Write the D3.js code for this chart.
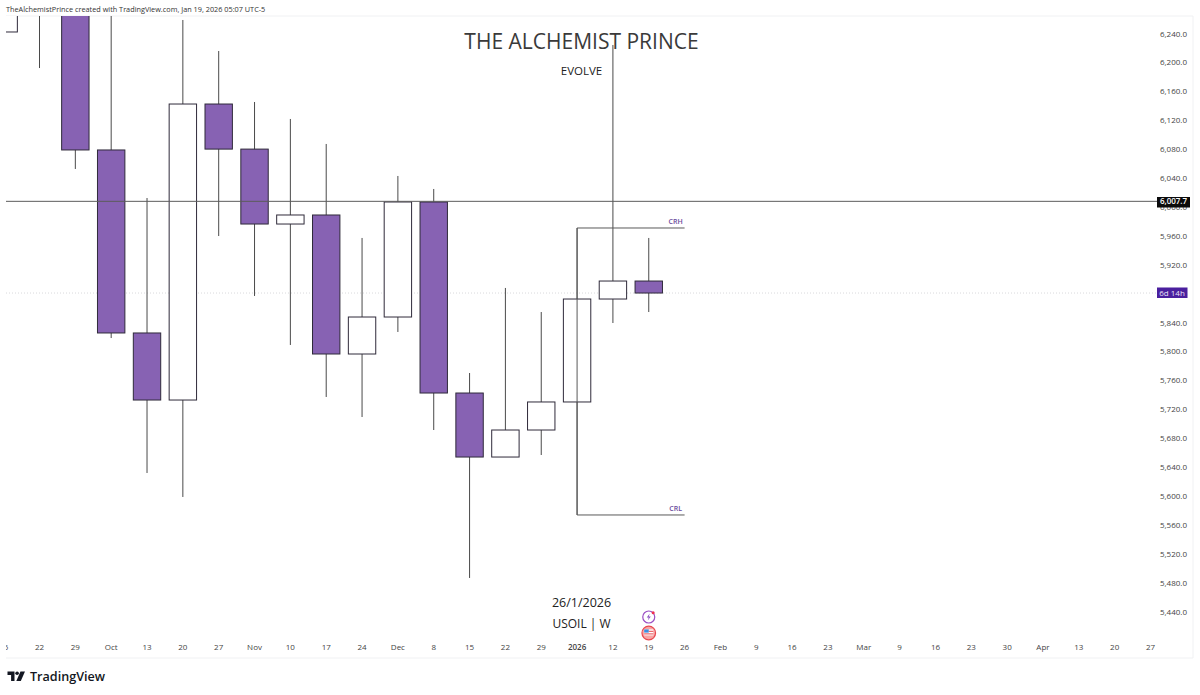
<!DOCTYPE html>
<html>
<head>
<meta charset="utf-8">
<script src="https://cdn.jsdelivr.net/npm/d3@7"></script>
<style>
  html, body { margin: 0; padding: 0; background: #fff; overflow: hidden; }
  text { font-family: "Open Sans", "Noto Sans", sans-serif; }
  .axis text { font-family: "Open Sans", sans-serif; font-size: 8px; fill: #444; }
  .axis line, .axis path { display: none; }
</style>
</head>
<body>
<svg id="chart" width="1200" height="695"></svg>
<script>
// weekly USOIL candles
const weekLabels = ["15", "22", "29", "Oct", "13", "20", "27", "Nov", "10", "17", "24", "Dec", "8", "15", "22", "29",
  "2026", "12", "19", "26", "Feb", "9", "16", "23", "Mar", "9", "16", "23", "30", "Apr", "13", "20", "27"];
const opens = [6300, 6330, 6320, 6078.8, 5825.5, 5732.7, 6142.4, 6080, 5976.3, 5988.8, 5796.4, 5847.6, 6006.8, 5742.4, 5653.8, 5691.2, 5730, 5872.5, 5897.4];
const highs = [6330, 6350, 6340, 6300, 6012.3, 6258.7, 6215.8, 6145.2, 6121.7, 6087.1, 5957, 6042.8, 6024.8, 5770.1, 5887.8, 5854.5, 5970.8, 6224.1, 5957];
const lows = [6242.1, 6192.2, 6052.5, 5818.5, 5631.7, 5598.5, 5959.7, 5876.7, 5808.9, 5736.9, 5709.2, 5826.9, 5691.2, 5486.4, 5653.8, 5656.6, 5573.6, 5839.3, 5854.5];
const closes = [6242.1, 6300, 6078.8, 5825.5, 5732.7, 6142.4, 6080, 5976.3, 5988.8, 5796.4, 5847.6, 6006.8, 5742.4, 5653.8, 5691.2, 5730, 5872.5, 5897.4, 5880.8];
// first candle closed above its open on the original chart (only its bottom edge shows)
const upOverride = [true, false];

const priceTicks = d3.range(5440, 6241, 40);
const lastPrice = 6007.7;
const countdownPrice = 5880.8;
const rangeHigh = 5970.8;
const rangeLow = 5573.6;
const rangeStart = 16;  // index of the 2026 week
const rangeEnd = 19;    // index of the "26" week

const W = 1200, H = 695;
const plot = { left: 6, right: 1193, top: 16, bottom: 658 };
const axisX = 1187;

const x = d3.scaleLinear().domain([1, 32]).range([39.5, 1150.5]);
const y = d3.scaleLinear().domain([6240, 5440]).range([33.5, 611.5]);

const UP_FILL = "#ffffff", DOWN_FILL = "#8762b3", BORDER = "#2f2a3a", WICK = "#4a4a4a";
const bodyW = 27.4;

const svg = d3.select("#chart");

svg.append("defs").append("clipPath").attr("id", "plotClip")
  .append("rect")
  .attr("x", plot.left).attr("y", plot.top)
  .attr("width", 1157 - plot.left).attr("height", plot.bottom - plot.top);

// header
svg.append("text").attr("x", 6).attr("y", 12)
  .attr("font-size", 7.3).attr("fill", "#333").attr("font-family", "Liberation Sans")
  .text("TheAlchemistPrince created with TradingView.com, Jan 19, 2026 05:07 UTC-5");

// pane frame
svg.append("path")
  .attr("d", `M${plot.left},${plot.top}H${plot.right}V${plot.bottom}H${plot.left}`)
  .attr("fill", "none").attr("stroke", "#f0f1f3").attr("stroke-width", 1);

// countdown dotted line
svg.append("line")
  .attr("x1", plot.left).attr("x2", 1157)
  .attr("y1", y(countdownPrice)).attr("y2", y(countdownPrice))
  .attr("stroke", "#d9d9dc").attr("stroke-width", 1).attr("stroke-dasharray", "1 2");

const g = svg.append("g").attr("clip-path", "url(#plotClip)");

const candles = opens.map((o, i) => ({
  i, o, h: highs[i], l: lows[i], c: closes[i],
  up: i < upOverride.length ? upOverride[i] : closes[i] >= o
}));

g.selectAll("line.wick").data(candles).join("line")
  .attr("class", "wick")
  .attr("x1", d => x(d.i)).attr("x2", d => x(d.i))
  .attr("y1", d => y(d.h)).attr("y2", d => y(d.l))
  .attr("stroke", WICK).attr("stroke-width", 1);

g.selectAll("rect.body").data(candles).join("rect")
  .attr("class", "body")
  .attr("x", d => x(d.i) - bodyW / 2)
  .attr("width", bodyW)
  .attr("y", d => y(Math.max(d.o, d.c)))
  .attr("height", d => Math.abs(y(d.o) - y(d.c)))
  .attr("fill", d => d.up ? UP_FILL : DOWN_FILL)
  .attr("stroke", BORDER).attr("stroke-width", 1);

// last price line
g.append("line")
  .attr("x1", plot.left).attr("x2", 1157)
  .attr("y1", y(lastPrice)).attr("y2", y(lastPrice))
  .attr("stroke", "#5c5c5c").attr("stroke-width", 1);

// CRH / CRL bracket
g.append("path")
  .attr("d", `M${x(rangeEnd)},${y(rangeHigh)}H${x(rangeStart)}V${y(rangeLow)}H${x(rangeEnd)}`)
  .attr("fill", "none").attr("stroke", "#5a5a5a").attr("stroke-width", 1);

svg.append("text").attr("x", x(rangeEnd) - 9).attr("y", y(rangeHigh) - 4)
  .attr("text-anchor", "middle").attr("font-size", 7).attr("font-weight", 600).attr("fill", "#6a4a9c").text("CRH");
svg.append("text").attr("x", x(rangeEnd) - 9).attr("y", y(rangeLow) - 4)
  .attr("text-anchor", "middle").attr("font-size", 7).attr("font-weight", 600).attr("fill", "#6a4a9c").text("CRL");

// axes
const yAxis = d3.axisLeft(y).tickValues(priceTicks).tickFormat(d3.format(",.1f")).tickSize(0).tickPadding(0);
svg.append("g").attr("class", "axis").attr("transform", `translate(${axisX},0)`).call(yAxis);

const xAxis = d3.axisBottom(x)
  .tickValues(weekLabels.map((_, i) => i))
  .tickFormat(i => weekLabels[i]).tickSize(0).tickPadding(0);
svg.append("defs").append("clipPath").attr("id", "axisClip")
  .append("rect").attr("x", plot.left).attr("y", 630).attr("width", 1180).attr("height", 40);
svg.append("g").attr("clip-path", "url(#axisClip)")
  .append("g").attr("class", "axis")
  .attr("transform", "translate(-0.5,644.5)").call(xAxis)
  .selectAll("text").attr("font-weight", d => weekLabels[d] === "2026" ? 600 : null);

// price tags
svg.append("rect").attr("x", 1157).attr("y", 197).attr("width", 33).attr("height", 10.5).attr("fill", "#0b0b0b");
svg.append("text").attr("x", 1173.5).attr("y", y(lastPrice) + 3).attr("text-anchor", "middle")
  .attr("font-size", 8).attr("font-weight", 600).attr("fill", "#fff").text(d3.format(",.1f")(lastPrice));
svg.append("rect").attr("x", 1157).attr("y", 287.5).attr("width", 30.5).attr("height", 10.5).attr("fill", "#4a1f9e");
svg.append("text").attr("x", 1172).attr("y", 295.8).attr("text-anchor", "middle")
  .attr("font-size", 8).attr("fill", "#e9e2f7").text("6d 14h");

// watermark style texts
const cx = 581.5;
svg.append("text").attr("x", cx).attr("y", 48.5).attr("text-anchor", "middle")
  .attr("font-size", 21).attr("fill", "#3a3a3a").attr("font-family", "Noto Sans").text("THE ALCHEMIST PRINCE");
svg.append("text").attr("x", cx).attr("y", 75).attr("text-anchor", "middle")
  .attr("font-size", 11.5).attr("fill", "#222").attr("font-family", "Noto Sans").text("EVOLVE");
svg.append("text").attr("x", cx).attr("y", 607).attr("text-anchor", "middle")
  .attr("font-size", 12.5).attr("fill", "#222").attr("font-family", "Noto Sans").text("26/1/2026");
svg.append("text").attr("x", cx).attr("y", 628).attr("text-anchor", "middle")
  .attr("font-size", 12).attr("fill", "#222").attr("font-family", "Noto Sans").text("USOIL | W");

// event icons under the current candle
const ix = x(18);
const bolt = svg.append("g").attr("transform", `translate(${ix},617)`);
bolt.append("circle").attr("r", 6).attr("fill", "#fff").attr("stroke", "#9b4fc4").attr("stroke-width", 1.2);
bolt.append("path").attr("d", "M1,-3.4L-2,0.6H0L-1,3.4L2,-0.6H0Z").attr("fill", "#8a4cc0");
bolt.append("circle").attr("cx", 4.4).attr("cy", -4.2).attr("r", 1.5).attr("fill", "#f0304f");
const flag = svg.append("g").attr("transform", `translate(${ix},633)`);
flag.append("circle").attr("r", 6.8).attr("fill", "#f7a5a5").attr("stroke", "#e8484f").attr("stroke-width", 1.2);
flag.append("rect").attr("x", -4.6).attr("y", -3.6).attr("width", 9.2).attr("height", 6).attr("fill", "#fff");
flag.append("rect").attr("x", -4.6).attr("y", -3.6).attr("width", 4.6).attr("height", 3.2).attr("fill", "#3d8fe0");
flag.append("rect").attr("x", 0).attr("y", -2.2).attr("width", 4.6).attr("height", 1).attr("fill", "#e8484f");
flag.append("rect").attr("x", -4.6).attr("y", 0.4).attr("width", 9.2).attr("height", 1).attr("fill", "#e8484f");

// TradingView logo
const logo = svg.append("g").attr("transform", "translate(7.5,671.5)").attr("fill", "#131722");
logo.append("path").attr("d", "M0,0H7V9.5H3.6V3.4H0Z");
logo.append("circle").attr("cx", 9.6).attr("cy", 1.8).attr("r", 1.8);
logo.append("path").attr("d", "M13,0H17.5L13.3,9.5H8.8Z");
svg.append("text").attr("x", 30).attr("y", 681).attr("font-size", 12.6).attr("font-weight", 600)
  .attr("font-family", "Inter, sans-serif").attr("fill", "#131722").text("TradingView");
</script>
</body>
</html>
